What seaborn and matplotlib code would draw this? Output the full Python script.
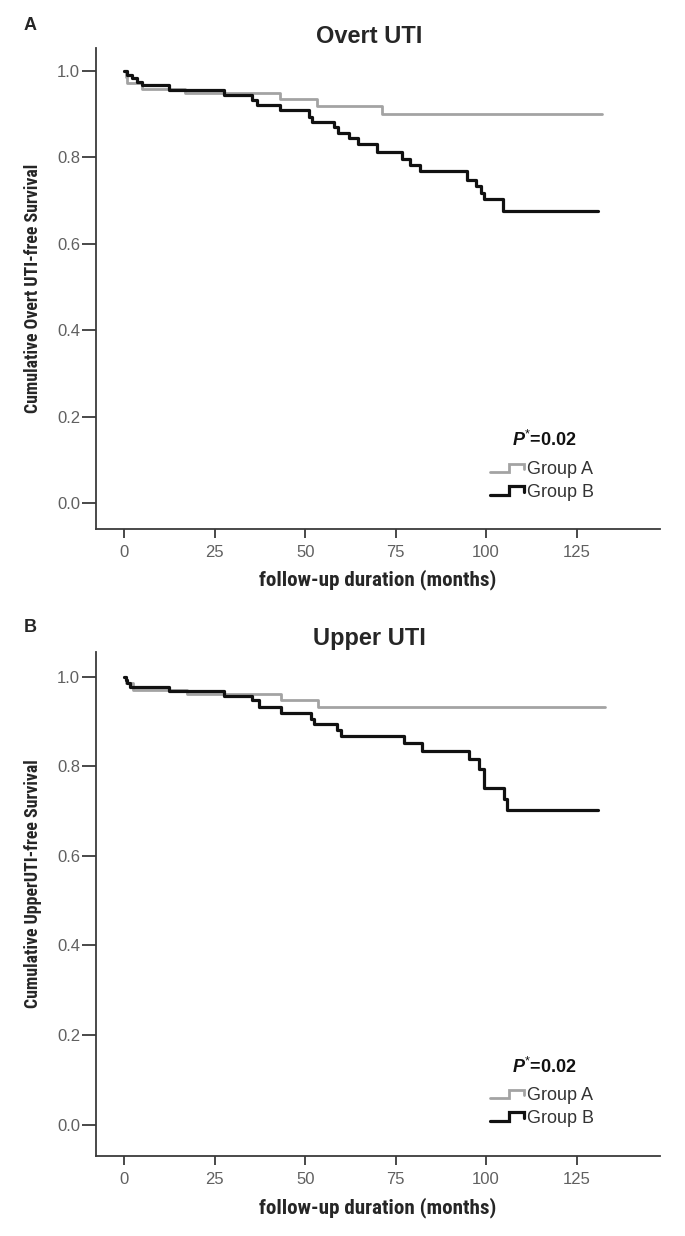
import numpy as np
import pandas as pd
import matplotlib
matplotlib.use('Agg')
import matplotlib.pyplot as plt
import seaborn as sns
from matplotlib import font_manager
from matplotlib.font_manager import FontProperties
from matplotlib.lines import Line2D
from matplotlib.legend_handler import HandlerBase

# Kaplan-Meier step data (months, survival)
overt_a_time = [0, 0.3, 0.8, 4.8, 16.8, 43.0, 53.2, 71.2, 132.0]
overt_a_surv = [1.0, 0.986, 0.972, 0.958, 0.948, 0.935, 0.918, 0.901, 0.901]

overt_b_time = [0, 0.6, 2.0, 3.4, 4.8, 12.4, 27.4, 35.2, 36.6, 43.0, 50.9, 51.8, 58.0,
                59.0, 62.0, 64.7, 69.8, 76.7, 79.0, 81.7, 94.6, 97.3, 98.7, 99.5, 104.7, 131.0]
overt_b_surv = [1.0, 0.990, 0.982, 0.975, 0.967, 0.955, 0.944, 0.932, 0.921, 0.909, 0.894, 0.882, 0.870,
                0.857, 0.845, 0.830, 0.812, 0.797, 0.782, 0.767, 0.748, 0.733, 0.718, 0.703, 0.676, 0.676]

upper_a_time = [0, 0.5, 2.5, 17.2, 43.2, 53.6, 133.0]
upper_a_surv = [1.0, 0.985, 0.971, 0.961, 0.948, 0.932, 0.932]

upper_b_time = [0, 0.3, 0.8, 1.5, 12.3, 27.5, 35.3, 37.2, 43.2, 51.5, 52.4, 58.9, 59.9,
                77.3, 82.3, 95.3, 98.0, 99.4, 104.9, 105.8, 131.0]
upper_b_surv = [1.0, 0.992, 0.985, 0.976, 0.969, 0.957, 0.948, 0.933, 0.918, 0.905, 0.894, 0.881, 0.868,
                0.851, 0.835, 0.816, 0.795, 0.751, 0.726, 0.703, 0.703]

groups = ['Group A', 'Group B']
x_ticks = [0, 25, 50, 75, 100, 125]
y_ticks = [0.0, 0.2, 0.4, 0.6, 0.8, 1.0]
p_label = r'$\mathbfit{P}^{*}$=0.02'

GRAY = '#a3a3a3'
BLACK = '#111111'

sns.set_style('ticks')
plt.rcParams['font.family'] = ['Liberation Sans', 'DejaVu Sans']
plt.rcParams['mathtext.fontset'] = 'custom'
plt.rcParams['mathtext.rm'] = 'Liberation Sans'
plt.rcParams['mathtext.it'] = 'Liberation Sans:italic'
plt.rcParams['mathtext.bf'] = 'Liberation Sans:bold'
plt.rcParams['mathtext.bfit'] = 'Liberation Sans:bold:italic'

# axis titles in the original are a narrow bold face; use one if the box has it
label_font = FontProperties(family='Liberation Sans', weight='bold')
for f in font_manager.fontManager.ttflist:
    fn = f.fname.lower()
    if ('narrow' in fn or 'condensed' in fn) and 'bold' in fn and 'oblique' not in fn and 'italic' not in fn:
        label_font = FontProperties(fname=f.fname)
        if 'liberation' in fn:
            break


class StepHandler(HandlerBase):
    # legend icon drawn as a little survival step
    def create_artists(self, legend, orig_handle, xdescent, ydescent, width, height, fontsize, trans):
        xs = np.array([0, 0.55, 0.55, 1.0, 1.0]) * width - xdescent
        ys = np.array([0.15, 0.15, 0.85, 0.85, 0.4]) * height - ydescent
        line = Line2D(xs, ys, color=orig_handle.get_color(), lw=orig_handle.get_linewidth(),
                      solid_joinstyle='miter')
        line.set_transform(trans)
        return [line]


def make_df(time, surv, group):
    return pd.DataFrame({'time': time, 'surv': surv, 'group': group})


fig = plt.figure(figsize=(6.85, 12.36), dpi=100)
W, H = 685, 1236


def px(x, y):
    return x / W, 1 - y / H


def fit_text(txt, target_px):
    # shrink / grow a text so its length matches the original
    r = fig.canvas.get_renderer()
    ext = txt.get_window_extent(r)
    w = ext.height if txt.get_rotation() == 90 else ext.width
    txt.set_fontsize(txt.get_fontsize() * target_px / w)


def draw_panel(top, bottom, ylim, df_a, df_b, title, ylabel, letter, letter_y,
               title_y, p_y, leg_y, ylab_y, xlab_y):
    ax = fig.add_axes([95.5 / W, 1 - bottom / H, (659.7 - 95.5) / W, (bottom - top) / H])
    sns.lineplot(data=df_a, x='time', y='surv', ax=ax, color=GRAY, lw=2.0,
                 drawstyle='steps-post', estimator=None, sort=False, legend=False)
    sns.lineplot(data=df_b, x='time', y='surv', ax=ax, color=BLACK, lw=2.3,
                 drawstyle='steps-post', estimator=None, sort=False, legend=False)
    ax.set_xlim(-8, 148)
    ax.set_ylim(*ylim)
    ax.set_xticks(x_ticks)
    ax.set_yticks(y_ticks)
    ax.set_yticklabels([f'{v:.1f}' for v in y_ticks])
    ax.set_xlabel('')
    ax.set_ylabel('')
    sns.despine(ax=ax)
    for s in ['left', 'bottom']:
        ax.spines[s].set_color('#3a3a3a')
        ax.spines[s].set_linewidth(1.3)
    ax.tick_params(axis='y', length=10, width=1.3, pad=1, color='#3a3a3a', labelcolor='#606060', labelsize=12)
    ax.tick_params(axis='x', length=6.5, width=1.3, pad=5, color='#3a3a3a', labelcolor='#606060', labelsize=12)

    handles = [Line2D([], [], color=GRAY, lw=2.0), Line2D([], [], color=BLACK, lw=2.3)]
    fig.legend(handles, groups, handler_map={Line2D: StepHandler()}, loc='center left',
               bbox_to_anchor=px(490, leg_y), frameon=False, fontsize=13, handlelength=1.9,
               handletextpad=0.15, labelspacing=0.3, borderpad=0, borderaxespad=0,
               labelcolor='#333333')
    fig.text(*px(544, p_y), p_label, ha='center', va='center', fontsize=13, fontweight='bold', color='#111111')

    cx = (95.5 + 659.7) / 2
    fig.text(*px(cx - 8, title_y), title, ha='center', va='baseline', fontsize=17, fontweight='bold')
    fig.text(*px(30, letter_y), letter, ha='center', va='center', fontsize=13, fontweight='bold')
    xl = fig.text(*px(cx, xlab_y), 'follow-up duration (months)', ha='center', va='center',
                  fontproperties=label_font)
    xl.set_fontsize(13)
    fit_text(xl, 237)
    yl = fig.text(*px(33, ylab_y), ylabel, ha='center', va='center', rotation=90,
                  fontproperties=label_font)
    yl.set_fontsize(12)
    fit_text(yl, 249)
    return ax


# A: Overt UTI
draw_panel(48, 529, (-0.0595, 1.0525),
           make_df(overt_a_time, overt_a_surv, 'Group A'), make_df(overt_b_time, overt_b_surv, 'Group B'),
           'Overt UTI', 'Cumulative Overt UTI-free Survival', 'A', 25,
           43, 440, 481, 288, 580)

# B: Upper UTI
draw_panel(651.7, 1156, (-0.070, 1.0558),
           make_df(upper_a_time, upper_a_surv, 'Group A'), make_df(upper_b_time, upper_b_surv, 'Group B'),
           'Upper UTI', 'Cumulative UpperUTI-free Survival', 'B', 627,
           645, 1067, 1107, 884, 1208)

fig.savefig('out.png', dpi=100)
